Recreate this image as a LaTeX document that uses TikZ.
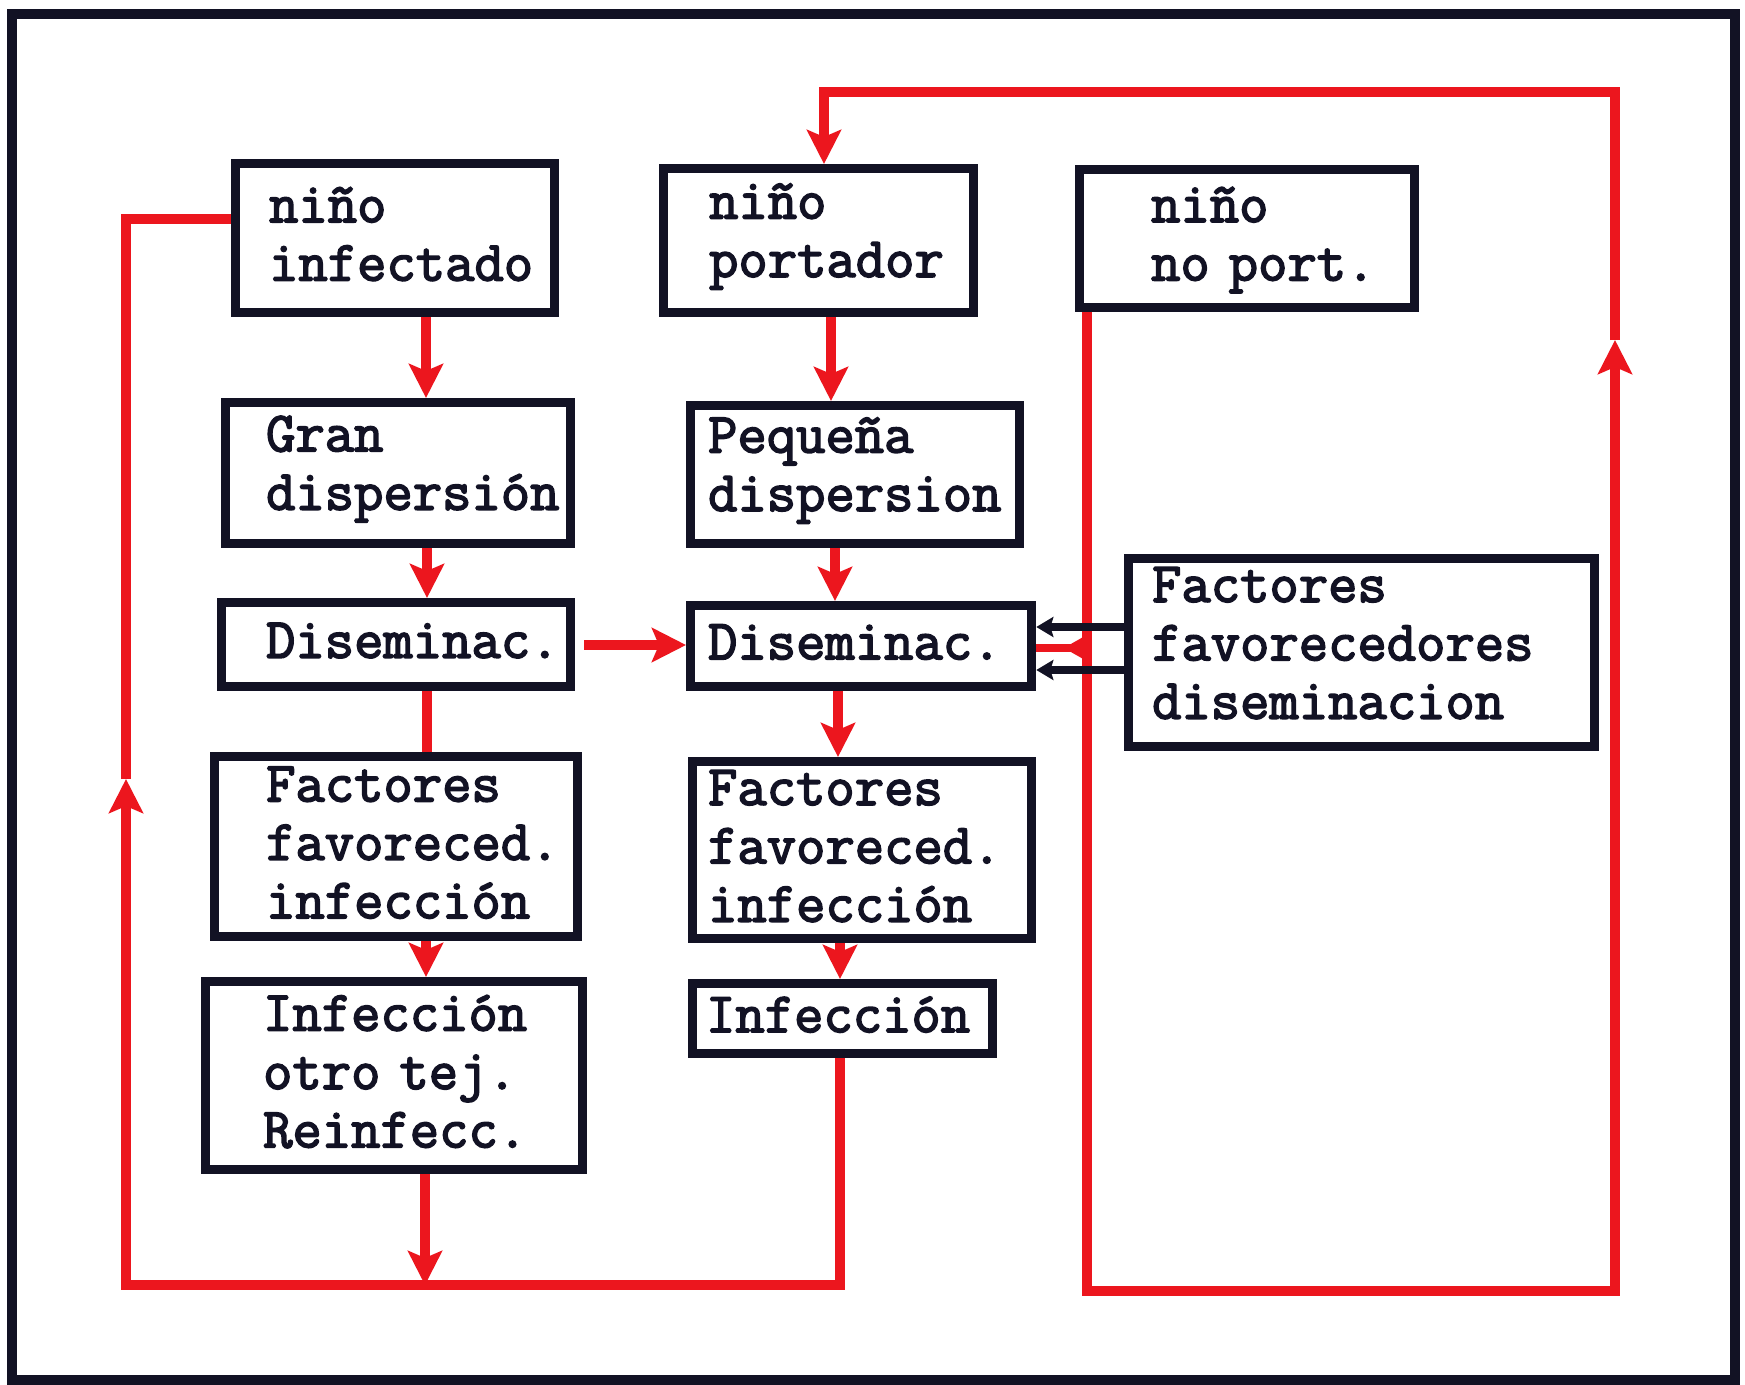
\documentclass[tikz,border=0pt]{standalone}
\usepackage{fontspec}
\newfontfamily\tw{Latin Modern Mono}[FakeBold=2.8]
\usetikzlibrary{arrows.meta,decorations.markings}
\definecolor{redl}{RGB}{236,22,30}
\definecolor{ink}{RGB}{18,18,36}
\hfuzz=200pt
\hbadness=10000
\tikzset{
  box/.style={draw=ink, line width=2.6pt, anchor=north west, inner ysep=0pt,
    align=left, text=ink, font=\tw\fontsize{16.2pt}{16.6pt}\selectfont},
  vs/.style={execute at end node={\par\vspace*{#1}}},
  vs/.default=0.08cm,
  redline/.style={draw=redl, line width=2.8pt},
  rtip/.style={-{Stealth[length=0.34cm,width=0.34cm,inset=0.07cm]}},
  blkline/.style={draw=ink, line width=2pt, -{Stealth[length=0.17cm,width=0.2cm,inset=0.03cm]}},
  frame/.style={draw=ink, line width=2.8pt}
}
\begin{document}
\begin{tikzpicture}[x=0.01cm,y=-0.01cm]
\useasboundingbox (0,0) rectangle (1745,1385);
\fill[white] (0,0) rectangle (1745,1385);
\draw[frame] (12,14) rectangle (1735,1380);

% boxes
\node[box, vs, inner xsep=0.335cm, text width=2.52cm, minimum height=1.49cm] (n1) at (231,159) {niño\\infectado};
\node[box, vs, inner xsep=0.455cm, text width=2.19cm, minimum height=1.44cm] (n2) at (659,164) {niño\\portador};
\node[box, vs=-0.03cm, inner xsep=0.715cm, text width=1.92cm, minimum height=1.38cm] (n3) at (1075,165) {niño\\no~port.};
\node[box, vs, inner xsep=0.405cm, text width=2.64cm, minimum height=1.41cm] (n4) at (221,398) {Gran\\dispersión};
\node[box, vs, inner xsep=0.175cm, text width=2.94cm, minimum height=1.38cm] (n5) at (686,401) {Pequeña\\dispersion};
\node[box, vs, inner xsep=0.445cm, text width=2.60cm, minimum height=0.84cm] (n6) at (217,598) {Diseminac.};
\node[box, vs, inner xsep=0.175cm, text width=3.06cm, minimum height=0.81cm] (n7) at (686,601) {Diseminac.};
\node[box, vs=0.19cm, inner xsep=0.235cm, text width=4.19cm, minimum height=1.88cm] (n8) at (1124,554) {Factores\\favorecedores\\diseminacion};
\node[box, vs, inner xsep=0.515cm, text width=2.60cm, minimum height=1.80cm] (n9) at (210,752) {Factores\\favoreced.\\infección};
\node[box, vs, inner xsep=0.155cm, text width=3.08cm, minimum height=1.77cm] (n10) at (688,757) {Factores\\favoreced.\\infección};
\node[box, vs, inner xsep=0.575cm, text width=2.62cm, minimum height=1.88cm] (n11) at (201,977) {Infección\\otro tej.\\Reinfecc.};
\node[box, vs, inner xsep=0.135cm, text width=2.73cm, minimum height=0.70cm] (n12) at (688,979) {Infección};

% named coordinates for the loops
\coordinate (lbl) at (126,1285);
\coordinate (lup) at (126,779);
\coordinate (ltl) at (126,219);
\coordinate (rbl) at (1087,1291);
\coordinate (rbr) at (1615,1291);
\coordinate (rup) at (1615,340);
\coordinate (rtr) at (1615,92);
\coordinate (rtl) at (824,92);
\coordinate (rj) at (1087,648);

% left column arrows
\draw[redline, rtip] (n1.south -| 426,0) -- (n4.north -| 426,0);
\draw[redline, rtip] (n4.south -| 427,0) -- (n6.north -| 427,0);
\draw[redline] (n6.south -| 427,0) -- (n9.north -| 427,0);
\draw[redline, rtip] (n9.south -| 426,0) -- (n11.north -| 426,0);
\draw[redline, rtip] (n11.south -| 425,0) -- (lbl -| 425,0);

% middle column arrows
\draw[redline, rtip] (n2.south -| 831,0) -- (n5.north -| 831,0);
\draw[redline, rtip] (n5.south -| 835,0) -- (n7.north -| 835,0);
\draw[redline, rtip] (n7.south -| 838,0) -- (n10.north -| 838,0);
\draw[redline, rtip] (n10.south -| 840,0) -- (n12.north -| 840,0);

% Diseminac -> Diseminac
\draw[redline, rtip, shorten <=0.09cm] (n6.east |- 0,645) -- (n7.west |- 0,645);

% left loop
\draw[redline, rtip] (n12.south -| 840,0) -- (lbl -| 840,0) -- (lbl) -- (lup);
\draw[redline] (lup) -- (ltl) -- (ltl -| n1.west);

% right loop
\draw[redline, rtip] (n3.south -| rbl) -- (rbl) -- (rbr) -- (rup);
\draw[redline, rtip] (rup) -- (rtr) -- (rtl) -- (n2.north -| rtl);

% factores favorecedores diseminacion -> Diseminac
\draw[blkline] (n8.west |- 0,627) -- (n7.east |- 0,627);
\draw[blkline] (n8.west |- 0,670) -- (n7.east |- 0,670);
\draw[draw=redl, line width=2.2pt, postaction={decorate, decoration={markings,
  mark=at position 0.46 with {\arrow{Stealth[length=0.2cm,width=0.22cm,inset=0.03cm]}}}}]
  (rj) -- (n7.east |- rj);
\end{tikzpicture}
\end{document}
